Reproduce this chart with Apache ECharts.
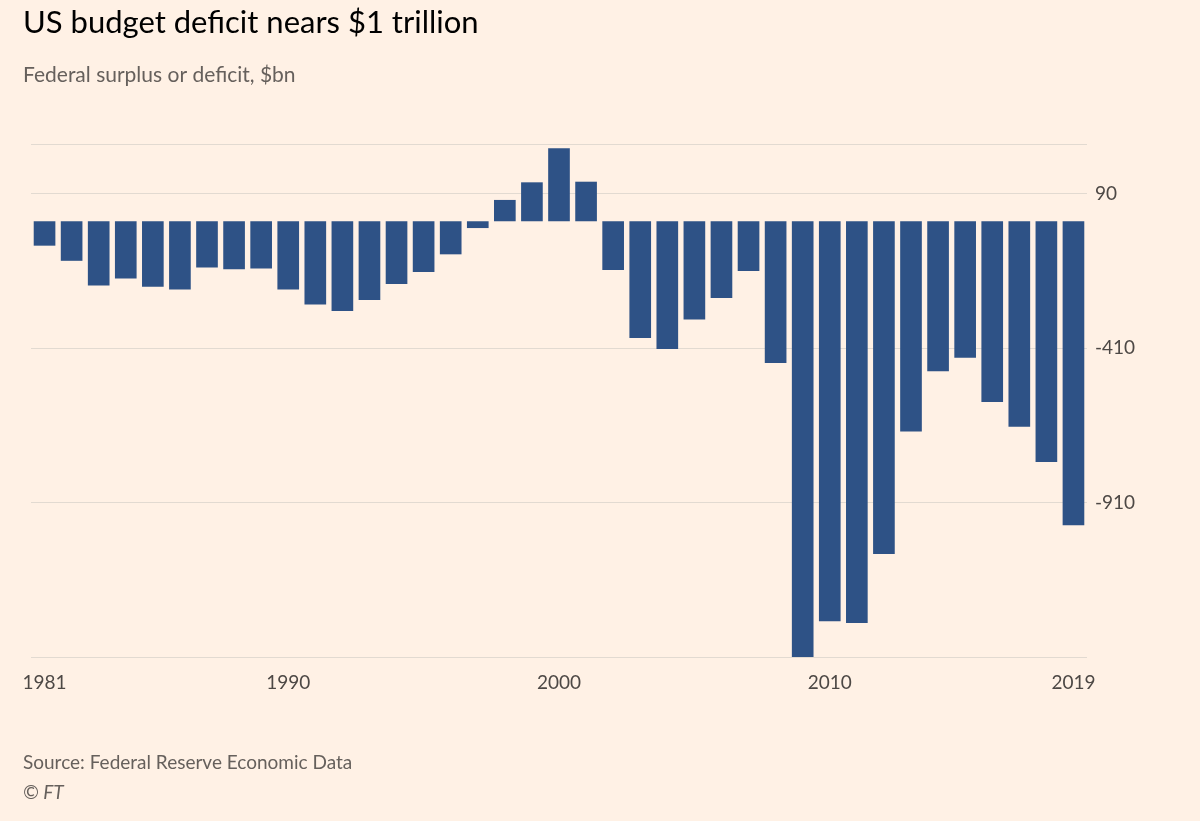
<!DOCTYPE html>
<html><head><meta charset="utf-8">
<script src="https://cdn.jsdelivr.net/npm/echarts@6/dist/echarts.min.js"></script>
<style>html,body{margin:0;background:#fff1e5}#c{width:1200px;height:821px}</style>
</head><body><div id="c"></div>
<script>
var years = [];
for (var y = 1981; y <= 2019; y++) years.push(String(y));
var deficit = [-79, -128, -208, -185, -212, -221, -150, -155, -153, -221,
  -269, -290, -255, -203, -164, -107, -22, 69, 126, 236,
  128, -158, -378, -413, -318, -248, -161, -459, -1413, -1294,
  -1300, -1077, -680, -485, -442, -585, -665, -779, -984];
var shownYears = ['1981', '1990', '2000', '2010', '2019'];

var chart = echarts.init(document.getElementById('c'));
chart.setOption({
  backgroundColor: '#fff1e5',
  textStyle: { fontFamily: 'Lato, "Open Sans", sans-serif' },
  title: [
    { text: 'US budget deficit nears $1 trillion', left: 18, top: 2,
      textStyle: { fontSize: 31, fontWeight: 'normal', color: '#000' } },
    { text: 'Federal surplus or deficit, $bn', left: 18, top: 60,
      textStyle: { fontSize: 21, fontWeight: 'normal', color: '#66605c' } },
    { text: 'Source: Federal Reserve Economic Data', left: 18, top: 748,
      textStyle: { fontSize: 19, fontWeight: 'normal', color: '#66605c' } },
    { text: '© FT', left: 18, top: 778,
      textStyle: { fontSize: 19, fontWeight: 'normal', fontStyle: 'italic', color: '#66605c' } }
  ],
  grid: { left: 31, right: 113, top: 144, bottom: 164 },
  xAxis: {
    type: 'category', data: years,
    axisLine: { show: false },
    axisTick: { alignWithLabel: true, interval: 0, length: 13, lineStyle: { color: '#b8b0a8' } },
    axisLabel: { interval: 0, margin: 16, fontSize: 19, color: '#4d4845',
      formatter: function (v) { return shownYears.indexOf(v) >= 0 ? v : ''; } }
  },
  yAxis: {
    type: 'value', position: 'right', min: -1410, max: 250,
    interval: 500,
    axisLine: { show: false }, axisTick: { show: false },
    axisLabel: { fontSize: 19, color: '#4d4845', margin: 8,
      showMinLabel: false, showMaxLabel: false,
      formatter: function (v) { return v === 0 ? '0' : v.toLocaleString('en-US'); } },
    splitLine: { lineStyle: { color: '#e2dad1' } }
  },
  series: [{
    type: 'bar', data: deficit, barCategoryGap: '20%',
    itemStyle: { color: '#2e5286' }
  }]
});
</script></body></html>
